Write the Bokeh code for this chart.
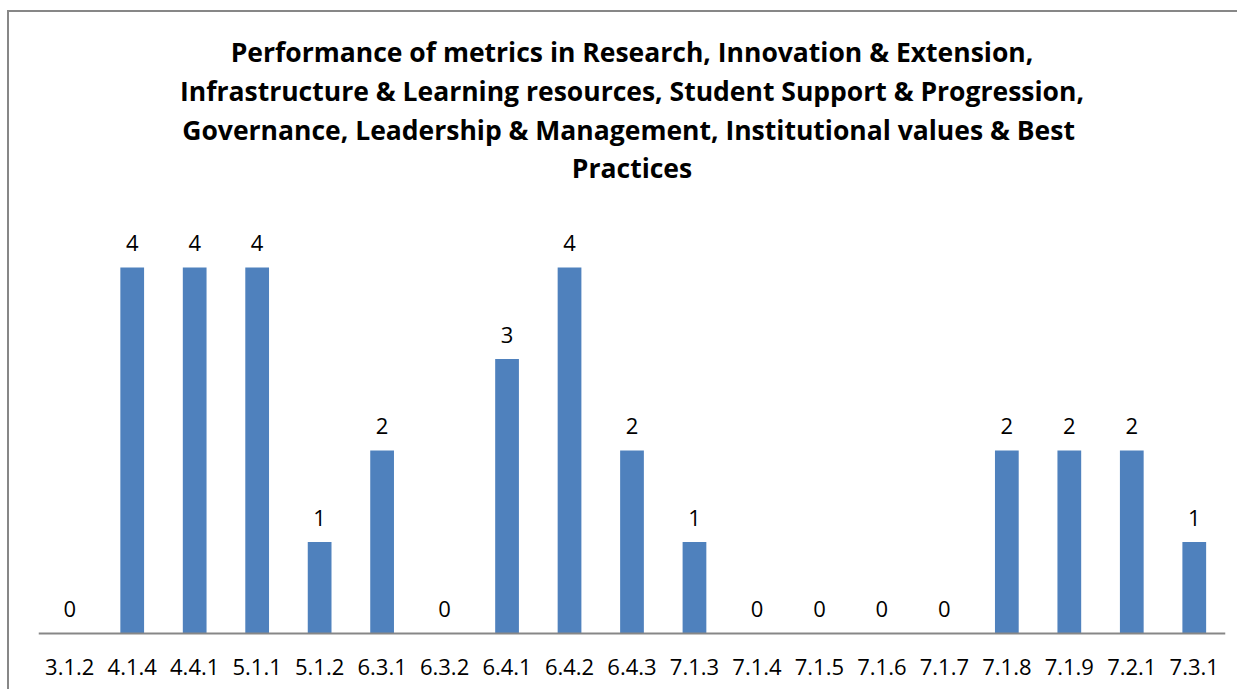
from bokeh.plotting import figure
from bokeh.models import ColumnDataSource, FactorRange, Range1d, Title
from bokeh.core.properties import value
from bokeh.embed import file_html
from bokeh.resources import INLINE

categories = ["3.1.2", "4.1.4", "4.4.1", "5.1.1", "5.1.2", "6.3.1", "6.3.2", "6.4.1", "6.4.2",
              "6.4.3", "7.1.3", "7.1.4", "7.1.5", "7.1.6", "7.1.7", "7.1.8", "7.1.9", "7.2.1", "7.3.1"]
values = [0, 4, 4, 4, 1, 2, 0, 3, 4, 2, 1, 0, 0, 0, 0, 2, 2, 2, 1]
title_lines = [
    "Performance of metrics in Research, Innovation & Extension,",
    "Infrastructure & Learning resources, Student Support & Progression,",
    "Governance, Leadership & Management,  Institutional values & Best",
    "Practices",
]

source = ColumnDataSource(dict(cat=categories, val=values, lab=[str(v) for v in values]))

p = figure(width=1230, height=679, x_range=FactorRange(factors=categories),
           y_range=Range1d(-0.634, 4.907), output_backend="svg", toolbar_location=None,
           min_border_left=29, min_border_right=14, min_border_bottom=0, min_border_top=172)
p.styles = {"margin-left": "7px", "margin-top": "10px",
            "border-left": "2px solid #878787", "border-top": "2px solid #878787"}
p.title.visible = False

# later-added titles sit further from the plot, so add the last line first
for i, line in enumerate(reversed(title_lines)):
    p.add_layout(Title(text=line, align="center", text_font="Open Sans", text_font_style="bold",
                       text_font_size="26.5px", text_color="black",
                       standoff=(-2 if i == 0 else 1)), "above")

p.vbar(x="cat", top="val", width=0.38, source=source, fill_color="#4F81BD", line_color=None)
p.text(x="cat", y="val", text="lab", source=source, text_align="center", text_baseline="middle",
       y_offset=-24, text_font=value("Open Sans"), text_font_size="22px", text_color="black")

p.yaxis.visible = False
p.xgrid.visible = False
p.ygrid.visible = False
p.outline_line_color = None
p.xaxis.fixed_location = 0
p.xaxis.axis_line_color = "#878787"
p.xaxis.axis_line_width = 2
p.xaxis.major_tick_line_color = None
p.xaxis.minor_tick_line_color = None
p.xaxis.major_tick_out = 0
p.xaxis.major_tick_in = 0
p.xaxis.major_label_text_font = "Open Sans"
p.xaxis.major_label_text_font_size = "22px"
p.xaxis.major_label_text_color = "black"
p.xaxis.major_label_standoff = 26

open("out.html", "w").write(file_html(p, INLINE))
